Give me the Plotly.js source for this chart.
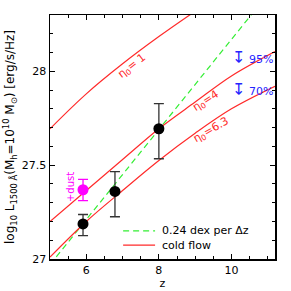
<!DOCTYPE html>
<html>
<head>
<meta charset="utf-8">
<script src="https://cdn.plot.ly/plotly-3.0.1.min.js"></script>
<style>html,body{margin:0;padding:0;background:#fff;}#chart{width:291px;height:291px;}</style>
</head>
<body>
<div id="chart"></div>
<script>
// observed points (z, log L)
var zObs = [5.91, 6.79, 8.0];
var lObs = [27.187, 27.36, 27.694];
var errPlus = [0.05, 0.105, 0.134];
var errMinus = [0.062, 0.135, 0.16];
// dust-corrected point
var zDust = [5.91];
var lDust = [27.369];
var dustPlus = [0.055];
var dustMinus = [0.058];
// cold flow model curves
var zEta1 = [5, 6, 7, 8, 9];
var lEta1 = [27.694, 27.88, 28.04, 28.185, 28.32];
var zEta4 = [5, 6, 7, 8, 9, 10, 11.2];
var lEta4 = [27.20, 27.365, 27.53, 27.694, 27.836, 27.975, 28.105];
var zEta63 = [5, 6, 7, 8, 9, 10, 11.2];
var lEta63 = [27.01, 27.20, 27.365, 27.525, 27.67, 27.80, 27.92];
// 0.24 dex per dz line
var zSlope = [5, 11.2];
var lSlope = [26.97, 28.458];
// tick values
var xTicks = [6, 8, 10];
var yTicks = [27, 27.5, 28];

var red = '#ff2a2a';
var green = '#33ee33';
var blue = '#2424ff';
var traces = [
  {x: zSlope, y: lSlope, mode: 'lines', line: {color: green, width: 1.2, dash: '6px,4px'}, hoverinfo: 'skip'},
  {x: zEta1, y: lEta1, mode: 'lines', line: {color: red, width: 1.2, shape: 'spline'}, hoverinfo: 'skip'},
  {x: zEta4, y: lEta4, mode: 'lines', line: {color: red, width: 1.2, shape: 'spline'}, hoverinfo: 'skip'},
  {x: zEta63, y: lEta63, mode: 'lines', line: {color: red, width: 1.2, shape: 'spline'}, hoverinfo: 'skip'},
  {x: zObs, y: lObs, mode: 'markers', marker: {color: '#000', size: 11},
   error_y: {type: 'data', symmetric: false, array: errPlus, arrayminus: errMinus, color: '#333', thickness: 1.3, width: 5}},
  {x: zDust, y: lDust, mode: 'markers', marker: {color: '#ff00ff', size: 11},
   error_y: {type: 'data', symmetric: false, array: dustPlus, arrayminus: dustMinus, color: '#ff00ff', thickness: 1.3, width: 5}}
];

var font = 'DejaVu Sans, sans-serif';
var axisCommon = {
  showgrid: false, zeroline: false, showline: true, linecolor: '#000', linewidth: 1.5,
  mirror: 'ticks', ticks: 'inside', ticklen: 5, tickwidth: 1, tickcolor: '#000',
  tickfont: {family: font, size: 11, color: '#000'}
};
var layout = {
  width: 291, height: 291,
  margin: {l: 50, r: 16, t: 15, b: 32},
  paper_bgcolor: '#fff', plot_bgcolor: '#fff',
  showlegend: false,
  xaxis: Object.assign({}, axisCommon, {
    range: [5, 11.2], tickvals: xTicks, ticktext: xTicks.map(String),
    minor: {ticks: 'inside', ticklen: 3, tickwidth: 1, tickcolor: '#000', dtick: 0.5, tick0: 5},
    title: {text: 'z', font: {family: font, size: 11, color: '#000'}, standoff: 2}
  }),
  yaxis: Object.assign({}, axisCommon, {
    range: [27, 28.3], tickvals: yTicks, ticktext: ['27', '27.5', '28'],
    minor: {ticks: 'inside', ticklen: 3, tickwidth: 1, tickcolor: '#000', dtick: 0.1, tick0: 27},
    title: {text: 'log<sub>10</sub> L<sub>1500 Å</sub>(M<sub>h</sub>=10<sup>10</sup> M<sub>⊙</sub>) [erg/s/Hz]',
            font: {family: font, size: 12, color: '#000'}, standoff: 4}
  }),
  shapes: [
    {type: 'line', xref: 'paper', yref: 'paper', x0: 0.325, x1: 0.467, y0: 0.115, y1: 0.115,
     line: {color: green, width: 1.2, dash: '6px,4px'}},
    {type: 'line', xref: 'paper', yref: 'paper', x0: 0.325, x1: 0.467, y0: 0.057, y1: 0.057,
     line: {color: red, width: 1.2}}
  ],
  annotations: [
    {xref: 'paper', yref: 'paper', x: 0.49, y: 0.115, xanchor: 'left', yanchor: 'middle', showarrow: false,
     text: '0.24 dex per Δz', font: {family: font, size: 11, color: '#000'}},
    {xref: 'paper', yref: 'paper', x: 0.49, y: 0.057, xanchor: 'left', yanchor: 'middle', showarrow: false,
     text: 'cold flow', font: {family: font, size: 11, color: '#000'}},
    {x: 7.26, y: 28.03, text: 'η<sub>0</sub>= 1', showarrow: false, textangle: -38,
     font: {family: font, size: 11, color: red}},
    {x: 9.30, y: 27.84, text: 'η<sub>0</sub>=4', showarrow: false, textangle: -33,
     font: {family: font, size: 11, color: red}},
    {x: 9.45, y: 27.685, text: 'η<sub>0</sub>=6.3', showarrow: false, textangle: -30,
     font: {family: font, size: 11, color: red}},
    {x: 5.56, y: 27.385, text: '+dust', showarrow: false, textangle: -90,
     font: {family: font, size: 10, color: '#ff00ff'}},
    {x: 10.19, y: 28.072, text: '↧', showarrow: false,
     font: {family: font, size: 16, color: blue}},
    {x: 10.42, y: 28.064, text: '95%', showarrow: false, xanchor: 'left',
     font: {family: font, size: 11, color: blue}},
    {x: 10.19, y: 27.902, text: '↧', showarrow: false,
     font: {family: font, size: 16, color: blue}},
    {x: 10.42, y: 27.895, text: '70%', showarrow: false, xanchor: 'left',
     font: {family: font, size: 11, color: blue}}
  ]
};
Plotly.newPlot('chart', traces, layout, {staticPlot: true, displayModeBar: false});
</script>
</body>
</html>
